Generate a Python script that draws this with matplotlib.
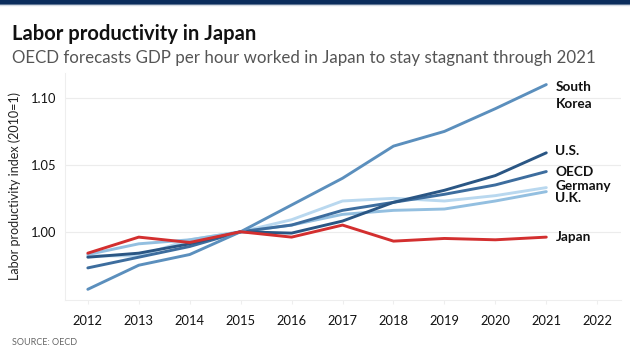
import matplotlib.pyplot as plt
from matplotlib.lines import Line2D

plt.rcParams['font.family'] = ['Lato', 'DejaVu Sans']

years = [2012, 2013, 2014, 2015, 2016, 2017, 2018, 2019, 2020, 2021]
japan = [0.984, 0.996, 0.992, 1.000, 0.996, 1.005, 0.993, 0.995, 0.994, 0.996]
south_korea = [0.957, 0.975, 0.983, 1.000, 1.020, 1.040, 1.064, 1.075, 1.092, 1.110]
us = [0.981, 0.984, 0.991, 1.000, 0.999, 1.008, 1.022, 1.031, 1.042, 1.059]
oecd = [0.973, 0.981, 0.989, 1.000, 1.005, 1.016, 1.022, 1.028, 1.035, 1.045]
germany = [0.982, 0.982, 0.994, 1.000, 1.009, 1.023, 1.025, 1.023, 1.027, 1.033]
uk = [0.983, 0.991, 0.994, 1.000, 1.005, 1.013, 1.016, 1.017, 1.023, 1.030]

x_ticks = list(range(2012, 2023))
y_ticks = [1.00, 1.05, 1.10]

series = [
    ("Germany", germany, "#b9d8ef"),
    ("U.K.", uk, "#93bfe0"),
    ("OECD", oecd, "#3d6d9e"),
    ("U.S.", us, "#2a5684"),
    ("South\nKorea", south_korea, "#5b8fbd"),
    ("Japan", japan, "#d32f2f"),
]
label_y = {"South\nKorea": 1.102, "U.S.": 1.060, "OECD": 1.045,
           "Germany": 1.034, "U.K.": 1.025, "Japan": 0.996}

fig = plt.figure(figsize=(6.3, 3.54), dpi=100)
fig.patch.set_facecolor("white")

# top banner
fig.add_artist(Line2D([0, 1], [0.995, 0.995], transform=fig.transFigure,
                      color="#0b2d5c", lw=4))
fig.add_artist(Line2D([0, 1], [0.985, 0.985], transform=fig.transFigure,
                      color="#d5dbe4", lw=1))

fig.text(0.019, 0.905, "Labor productivity in Japan", fontsize=14.5,
         fontweight="bold", color="#111111", va="center")
fig.text(0.019, 0.835, "OECD forecasts GDP per hour worked in Japan to stay stagnant through 2021",
         fontsize=12.2, color="#555555", va="center")
fig.text(0.019, 0.033, "SOURCE: OECD", fontsize=6.5, color="#666666", va="center")

ax = fig.add_axes([0.103, 0.1525, 0.883, 0.6415])
for name, vals, col in series:
    ax.plot(years, vals, color=col, lw=2.1, solid_capstyle="round")
    ax.text(2021.18, label_y[name], name, fontsize=9.8, fontweight="bold",
            color="#111111", va="center", ha="left", linespacing=1.5)

ax.set_xlim(2011.55, 2022.47)
ax.set_ylim(0.949, 1.1187)
ax.set_xticks(x_ticks)
ax.set_xticklabels([str(t) for t in x_ticks], fontsize=9.3, color="#111111")
ax.set_yticks(y_ticks)
ax.set_yticklabels(["%.2f" % t for t in y_ticks], fontsize=9.3, color="#111111")
ax.set_ylabel("Labor productivity index (2010=1)", fontsize=9, color="#222222", labelpad=7)
ax.grid(axis="y", color="#ececec", lw=0.8)
ax.set_axisbelow(True)
for s in ["top", "right"]:
    ax.spines[s].set_visible(False)
for s in ["left", "bottom"]:
    ax.spines[s].set_color("#eeeeee")
ax.tick_params(axis="y", length=0, pad=6)
ax.tick_params(axis="x", length=3, color="#eeeeee", pad=8)

fig.savefig("out.png", dpi=100)
